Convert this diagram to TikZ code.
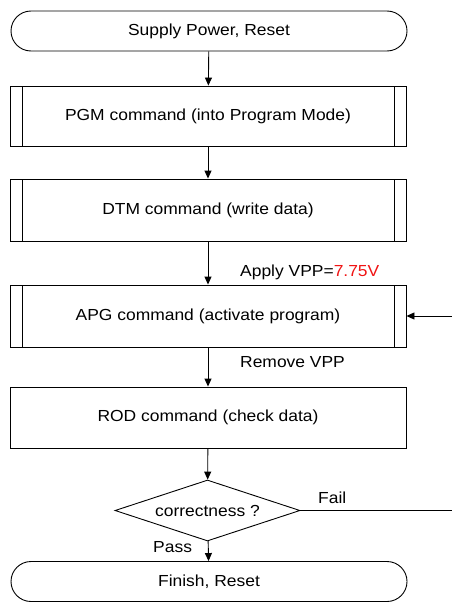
\documentclass[tikz,border=0pt]{standalone}
\usepackage{fontspec}
\setmainfont[FakeStretch=1.09]{Liberation Sans}
\usetikzlibrary{arrows.meta,shapes.geometric}
\definecolor{vred}{RGB}{240,20,20}
\begin{document}
\begin{tikzpicture}[x=1pt,y=-1pt,
  every node/.style={font=\fontsize{16}{19}\selectfont},
  term/.style={draw,line width=0.9pt,rectangle,rounded corners=20pt,minimum width=396pt,minimum height=40pt,inner sep=0pt},
  procbox/.style={draw,line width=0.9pt,rectangle,minimum width=396pt,inner sep=0pt},
  predef/.style={procbox,path picture={
      \draw[line width=0.9pt] ([xshift=12pt]path picture bounding box.north west) -- ([xshift=12pt]path picture bounding box.south west);
      \draw[line width=0.9pt] ([xshift=-12pt]path picture bounding box.north east) -- ([xshift=-12pt]path picture bounding box.south east);}},
  decide/.style={draw,line width=0.9pt,diamond,minimum width=185pt,minimum height=61pt,inner sep=0pt,aspect=3},
  flow/.style={draw,line width=0.9pt,-{Triangle[length=8pt,width=7pt]}},
  lbl/.style={anchor=west,inner sep=0pt}
]
\useasboundingbox (0,0) rectangle (452,602);
\node[term] (start) at (209,31) {Supply Power, Reset};
\node[predef,minimum height=60pt] (pgm) at (208,116) {PGM command (into Program Mode)};
\node[predef,minimum height=62pt] (dtm) at (208,210) {DTM command (write data)};
\node[predef,minimum height=62pt] (apg) at (208,316) {APG command (activate program)};
\node[procbox,minimum height=61pt] (rod) at (208,417.5) {ROD command (check data)};
\node[decide] (dec) at (207.5,510.5) {correctness ?};
\node[term] (fin) at (209,581.5) {Finish, Reset};
\coordinate (failend) at (452,510.5);
\coordinate (loopin) at (452,316);

\draw[flow] (start) -- (pgm);
\draw[flow] (pgm) -- (dtm);
\draw[flow] (dtm) -- (apg);
\draw[flow] (apg) -- (rod);
\draw[flow] (rod) -- (dec);
\draw[flow] (dec) -- (fin);
\draw[line width=0.9pt] (dec.east) -- (failend);
\draw[flow] (loopin) -- (apg.east);

\node[lbl] (lapply) at (240,272) {Apply VPP=\textcolor{vred}{7.75V}};
\node[lbl] (lremove) at (240,362) {Remove VPP};
\node[lbl] (lfail) at (318,498) {Fail};
\node[lbl] (lpass) at (153,547) {Pass};
\end{tikzpicture}
\end{document}
